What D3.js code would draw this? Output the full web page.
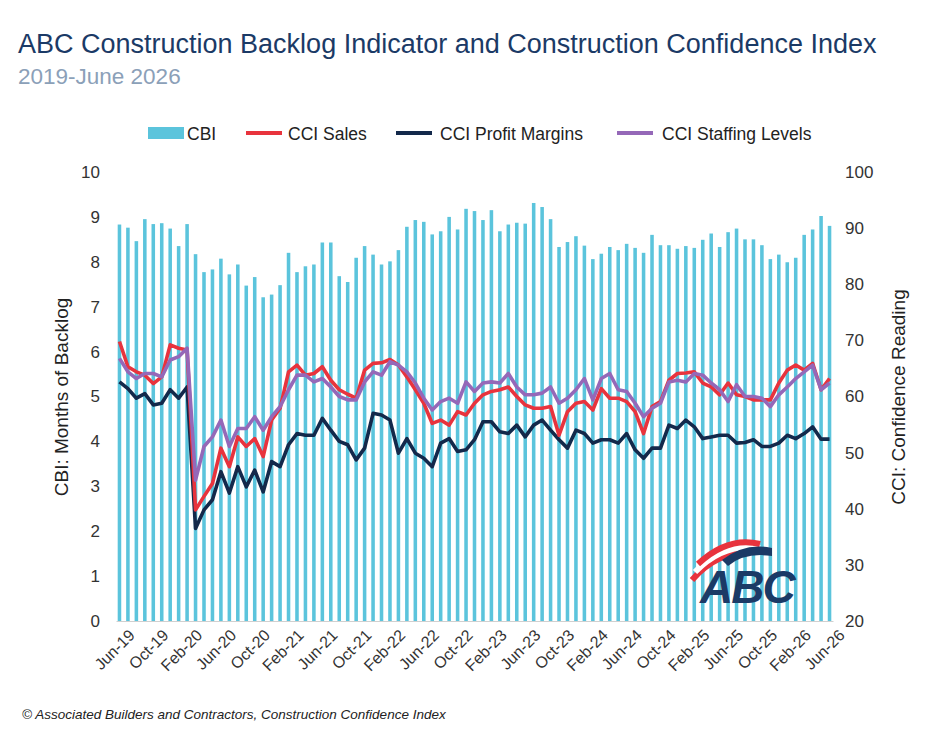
<!DOCTYPE html>
<html><head><meta charset="utf-8">
<script src="https://cdn.jsdelivr.net/npm/d3@7"></script>
<style>body{margin:0;background:#fff;font-family:Arial,"Liberation Sans",sans-serif}</style>
</head><body><svg id="c" width="936" height="733"></svg>
<script>
const cbi=[8.83,8.76,8.46,8.95,8.84,8.86,8.74,8.35,8.84,8.17,7.77,7.83,8.07,7.72,7.94,7.47,7.66,7.21,7.27,7.48,8.20,7.77,7.90,7.94,8.43,8.43,7.68,7.55,8.09,8.35,8.16,7.94,8.01,8.26,8.78,8.93,8.89,8.61,8.68,9.0,8.72,9.18,9.13,8.93,9.15,8.68,8.83,8.87,8.85,9.31,9.22,8.95,8.33,8.44,8.57,8.36,8.06,8.18,8.33,8.26,8.40,8.31,8.20,8.60,8.37,8.37,8.29,8.35,8.31,8.49,8.63,8.33,8.66,8.74,8.50,8.50,8.37,8.06,8.16,7.99,8.09,8.60,8.72,9.02,8.80];
const sales=[69.8,65.3,64.4,63.8,62.3,63.5,69.2,68.6,68.3,39.8,42.2,44.5,50.8,47.5,52.8,51.1,52.5,49.3,55.8,57.9,64.4,65.6,63.8,64.1,65.3,62.9,61.2,60.4,59.7,64.7,65.9,66.0,66.6,65.6,63.5,61.2,58.8,55.2,55.8,54.9,57.3,56.7,58.8,60.3,60.9,61.2,61.7,60.0,58.5,57.9,57.9,58.2,53.1,57.3,58.8,59.1,57.6,61.4,59.7,59.7,59.1,57.3,53.4,58.2,59.1,62.9,64.1,64.2,64.4,62.4,61.7,60.3,62.4,60.3,60.0,59.4,59.4,59.4,62.4,64.7,65.6,64.7,65.9,61.2,63.2];
const profit=[62.6,61.4,59.7,60.5,58.5,58.8,61.2,59.7,61.7,36.5,39.8,41.6,46.6,42.8,47.5,43.9,46.9,43.0,48.4,47.5,51.4,53.4,53.1,53.1,56.1,54.0,52.0,51.4,48.7,50.8,57.0,56.7,55.8,49.9,52.5,49.9,49.0,47.5,51.7,52.5,50.2,50.5,52.3,55.5,55.5,53.7,53.4,54.9,52.8,54.9,55.8,54.0,52.3,50.8,54.0,53.4,51.7,52.3,52.3,51.7,53.4,50.5,49.0,50.8,50.8,54.9,54.3,55.8,54.6,52.5,52.8,53.1,53.1,51.7,51.8,52.3,51.1,51.1,51.7,53.1,52.5,53.4,54.6,52.4,52.4];
const staffing=[66.8,64.4,63.2,64.1,64.1,63.5,66.5,67.1,68.6,45.1,51.1,52.8,55.8,51.1,54.3,54.3,56.4,54.0,56.4,58.2,61.2,63.8,63.8,62.6,63.2,61.7,60.0,59.4,59.4,62.6,64.4,63.8,66.2,65.6,64.4,62.4,59.7,57.6,59.1,59.7,58.8,62.6,60.9,62.4,62.6,62.4,64.1,61.7,60.3,60.3,60.6,61.7,58.8,59.7,61.2,63.2,59.4,63.2,64.1,61.2,60.9,58.8,56.4,57.9,58.8,62.6,62.9,62.6,64.1,63.8,62.4,61.2,59.1,62.1,60.0,60.0,59.7,58.2,60.3,61.7,63.2,64.4,65.6,61.2,62.4];
const tickLabels=["Jun-19","Oct-19","Feb-20","Jun-20","Oct-20","Feb-21","Jun-21","Oct-21","Feb-22","Jun-22","Oct-22","Feb-23","Jun-23","Oct-23","Feb-24","Jun-24","Oct-24","Feb-25","Jun-25","Oct-25","Feb-26","Jun-26"];
const leftTicks=[0,1,2,3,4,5,6,7,8,9,10];
const rightTicks=[20,30,40,50,60,70,80,90,100];

const svg=d3.select("#c");
const L=116,R=833,T=172,B=621;
const idx=d3.range(cbi.length);
const x=d3.scaleBand().domain(idx).range([L,R]).paddingInner(0.58).paddingOuter(0.2);
const cx=i=>x(i)+x.bandwidth()/2;
const yL=d3.scaleLinear().domain([0,10]).range([B,T]);
const yR=d3.scaleLinear().domain([20,100]).range([B,T]);

svg.append("text").attr("x",18).attr("y",53).attr("font-size",27).attr("fill","#1b3a66").text("ABC Construction Backlog Indicator and Construction Confidence Index");
svg.append("text").attr("x",18).attr("y",84).attr("font-size",22.5).attr("fill","#8ba0b8").text("2019-June 2026");

svg.append("g").selectAll("rect").data(cbi).join("rect")
 .attr("x",(d,i)=>x(i)).attr("width",x.bandwidth()).attr("y",d=>yL(d)).attr("height",d=>B-yL(d)).attr("fill","#5bc4dc");

const line=d3.line().x((d,i)=>cx(i)).y(d=>yR(d));
[[profit,"#13294b"],[sales,"#e8333d"],[staffing,"#9568b8"]].forEach(([s,c])=>{
 svg.append("path").attr("d",line(s)).attr("fill","none").attr("stroke",c).attr("stroke-width",3.6).attr("stroke-linejoin","round");
});
const axL=svg.append("g").attr("transform",`translate(${L},0)`).call(d3.axisLeft(yL).tickValues(leftTicks).tickSize(0).tickPadding(16));
const axR=svg.append("g").attr("transform",`translate(${R},0)`).call(d3.axisRight(yR).tickValues(rightTicks).tickSize(0).tickPadding(12));
[axL,axR].forEach(a=>{a.select(".domain").remove();a.selectAll("text").attr("font-size",17).attr("fill","#333").attr("font-family","Arial,Liberation Sans");});

const xa=svg.append("g").attr("transform",`translate(0,${B})`).call(d3.axisBottom(x).tickValues(d3.range(0,cbi.length,4)).tickFormat((d)=>tickLabels[d/4]).tickSize(0).tickPadding(6));
xa.select(".domain").attr("stroke","#d0d0d0");
xa.selectAll("text").attr("font-size",16).attr("fill","#333").attr("text-anchor","end").attr("transform","translate(4,3) rotate(-45)");

svg.append("text").attr("transform",`translate(68,397) rotate(-90)`).attr("text-anchor","middle").attr("font-size",19).attr("fill","#222").text("CBI: Months of Backlog");
svg.append("text").attr("transform",`translate(905,397) rotate(-90)`).attr("text-anchor","middle").attr("font-size",19).attr("fill","#222").text("CCI: Confidence Reading");

const leg=[["CBI","#5bc4dc",true,148,187],["CCI Sales","#e8333d",false,246,288],["CCI Profit Margins","#13294b",false,396,440],["CCI Staffing Levels","#9568b8",false,617,662]];
leg.forEach(([t,c,bar,lx,tx])=>{
 if(bar) svg.append("rect").attr("x",lx).attr("y",127).attr("width",36).attr("height",12).attr("fill",c);
 else svg.append("line").attr("x1",lx).attr("x2",lx+36).attr("y1",133).attr("y2",133).attr("stroke",c).attr("stroke-width",3.8);
 svg.append("text").attr("x",tx).attr("y",140).attr("font-size",17.5).attr("fill","#222").text(t);
});

svg.append("text").attr("x",22).attr("y",719).attr("font-size",13.5).attr("font-style","italic").attr("fill","#222").text("© Associated Builders and Contractors, Construction Confidence Index");

const lg=svg.append("g");
[0,1,2].forEach(k=>lg.append("path").attr("d",`M${692+k*3},${580-k*8} Q${720+k*4},${548-k*6} ${760},${552-k*4}`).attr("fill","none").attr("stroke",k%2?"#fff":"#e8333d").attr("stroke-width",6));
lg.append("path").attr("d","M722,560 Q745,542 772,548 L772,556 Q745,552 728,566Z").attr("fill","#1b3a66");
lg.append("text").attr("x",700).attr("y",603).attr("font-size",46).attr("font-weight","bold").attr("font-style","italic").attr("fill","#1b3a66").attr("letter-spacing",-2).text("ABC");
</script></body></html>
